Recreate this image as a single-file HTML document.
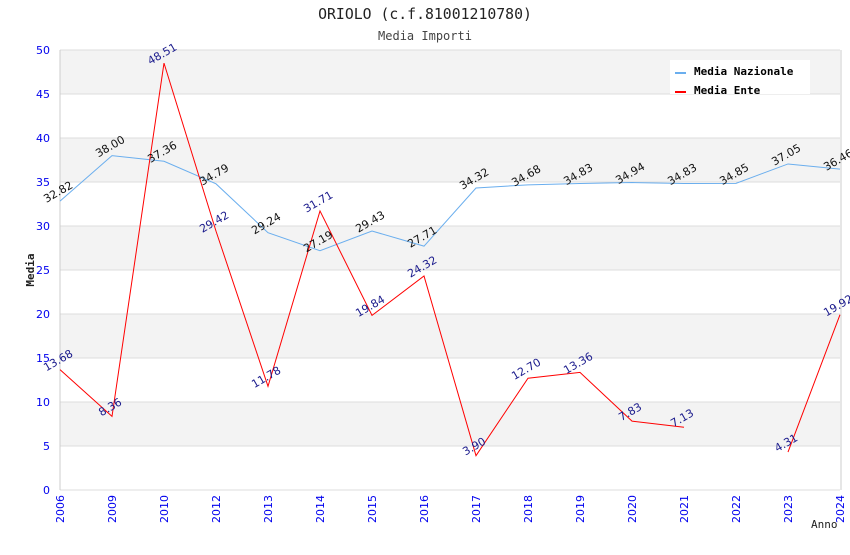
<!DOCTYPE html>
<html><head><meta charset="utf-8"><style>
body{margin:0;background:#fff;}
svg text{font-family:"DejaVu Sans","Liberation Sans",sans-serif;}
.mono{font-family:"DejaVu Sans Mono","Liberation Mono",monospace;}
</style></head><body>
<svg id="chart" width="850" height="550" xmlns="http://www.w3.org/2000/svg">
<text class="mono" x="425" y="19" text-anchor="middle" font-size="14.8" fill="#222">ORIOLO (c.f.81001210780)</text>
<text class="mono" x="425" y="40" text-anchor="middle" font-size="12" fill="#444">Media Importi</text>
<g id="bands"></g><g id="grid"></g><g id="axes"></g><g id="lines"></g><g id="labels"></g>
<text class="mono" transform="translate(34,270) rotate(-90)" text-anchor="middle" font-size="11" font-weight="bold" fill="#222">Media</text>
<text class="mono" x="811" y="528" font-size="11" fill="#222">Anno</text>
<g>
<rect x="670" y="60" width="140" height="34" fill="#fff"/>
<rect x="675" y="72" width="11" height="2" fill="#6aaeee"/>
<text class="mono" x="694" y="75" font-size="11" font-weight="bold" fill="#000">Media Nazionale</text>
<rect x="675" y="91" width="11" height="2" fill="#ff0000"/>
<text class="mono" x="694" y="94" font-size="11" font-weight="bold" fill="#000">Media Ente</text>
</g>
</svg>
<script>
const categories=["2006","2009","2010","2012","2013","2014","2015","2016","2017","2018","2019","2020","2021","2022","2023","2024"];
const nazionale=[32.82,38.00,37.36,34.79,29.24,27.19,29.43,27.71,34.32,34.68,34.83,34.94,34.83,34.85,37.05,36.46];
const ente=[13.68,8.36,48.51,29.42,11.78,31.71,19.84,24.32,3.90,12.70,13.36,7.83,7.13,null,4.31,19.92];
const yTicks=[0,5,10,15,20,25,30,35,40,45,50];
const NS="http://www.w3.org/2000/svg";
const X0=60,X1=840,Y0=490,Y1=50;
function x(i){return X0+i*(X1-X0)/(categories.length-1);}
function y(v){return Y0-(v/50)*(Y0-Y1);}
function mk(tag,attrs,parent,txt){const e=document.createElementNS(NS,tag);for(const k in attrs)e.setAttribute(k,attrs[k]);if(txt!==undefined)e.textContent=txt;document.getElementById(parent).appendChild(e);return e;}
for(let i=0;i<yTicks.length-1;i++){if(i%2===1){const r=mk('rect',{x:X0,y:y(yTicks[i+1]),width:X1-X0,height:y(yTicks[i])-y(yTicks[i+1]),fill:'#f3f3f3'},'bands');

}}
yTicks.forEach(t=>{const l=mk('line',{x1:X0,x2:X1,y1:y(t),y2:y(t),stroke:'#ddd'},'grid');


const tx=mk('text',{x:50,y:y(t)+4,'text-anchor':'end','font-size':11,fill:'#0000ee'},'axes',String(t));

});
mk('line',{x1:X0,x2:X0,y1:Y1,y2:Y0,stroke:'#ccc'},'axes');
mk('line',{x1:X1+1,x2:X1+1,y1:Y1,y2:Y0,stroke:'#ccc'},'axes');
categories.forEach((c,i)=>{const t=mk('text',{transform:`translate(${x(i)+4},${Y0+5}) rotate(-90)`,'text-anchor':'end','font-size':11,fill:'#0000ee'},'axes',c);

});
function series(vals,color,lblColor,name){let d='',pen=false;vals.forEach((v,i)=>{if(v===null){pen=false;return;}d+=(pen?'L':'M')+x(i)+' '+y(v)+' ';pen=true;
const t=mk('text',{transform:`translate(${x(i)},${y(v)-6}) rotate(-30)`,'text-anchor':'middle','font-size':11,fill:lblColor},'labels',v.toFixed(2));

});
const p=mk('path',{d:d,fill:'none',stroke:color,'stroke-width':1},'lines');

}
series(nazionale,'#6aaeee','#111','nazionale');
series(ente,'#ff0000','#1a1a8c','ente');
</script>
</body></html>
